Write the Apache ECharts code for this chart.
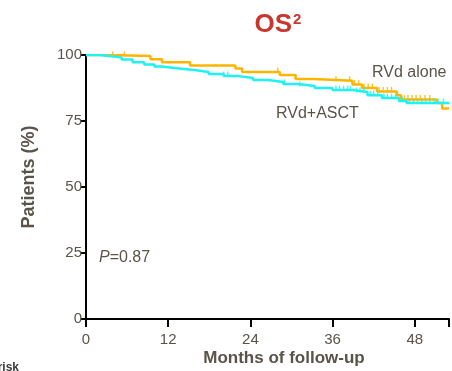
<!DOCTYPE html>
<html>
<head>
<meta charset="utf-8">
<script src="https://cdn.jsdelivr.net/npm/echarts@6/dist/echarts.min.js"></script>
<style>
  html, body { margin: 0; padding: 0; background: #fff; }
  #chart-panel { width: 452px; height: 371px; }
</style>
</head>
<body>
<div id="chart-panel"></div>
<script>
// months ticks and survival (%)
var xTicks = [0, 12, 24, 36, 48];
var yTicks = [0, 25, 50, 75, 100];

// RVd alone: [month, % alive after step]
var rvdAlone = [
  [0, 100], [3.5, 99.6], [9.4, 98.4], [11.1, 97.3], [15.2, 96.0], [21.8, 94.9],
  [22.8, 93.6], [28.3, 92.4], [30.6, 90.9], [33.3, 90.2], [38.9, 88.8],
  [40.3, 87.5], [42.5, 86.2], [45.4, 84.8], [46.0, 83.1], [51.2, 81.8],
  [52.0, 79.7], [53, 79.7]
];
// RVd+ASCT
var rvdAsct = [
  [0, 100], [2.0, 99.6], [3.3, 99.1], [5.2, 98.3], [6.8, 97.3], [8.5, 96.4],
  [10.0, 95.6], [11.0, 94.9], [13.6, 94.3], [15.8, 93.6], [17.9, 92.8],
  [20.1, 92.0], [22.3, 91.3], [24.4, 90.5], [26.6, 89.8], [28.8, 89.0],
  [30.9, 88.3], [33.4, 87.5], [36.0, 86.7], [38.9, 86.0], [41.1, 84.8],
  [43.2, 83.7], [45.7, 82.6], [46.8, 81.8], [53, 81.8]
];

// censoring times (months)
var censorAlone = [3.9, 5.6, 28.0, 30.6, 36.5, 38.5, 39.2, 39.8, 40.6, 41.2, 41.8,
  42.8, 43.4, 44.0, 44.6, 46.5, 47.0, 47.6, 48.2, 48.8, 49.5, 50.2];
var censorAsct = [20.1, 20.7, 29.0, 31.2, 36.5, 37.0, 37.6, 38.2, 38.6, 39.5, 40.0,
  40.6, 41.5, 42.0, 42.6, 43.5, 44.0, 44.6, 45.2, 46.2, 47.2, 47.8, 48.4, 49.0,
  49.6, 50.2, 50.8, 51.4, 52.2];

var textColor = '#59534a';
var orange = '#ffb400';
var cyan = '#1ef2f2';

function survAt(curve, t) {
  var v = curve[0][1];
  for (var i = 0; i < curve.length; i++) {
    if (curve[i][0] <= t) v = curve[i][1];
  }
  return v;
}
function censorPoints(curve, times) {
  return times.map(function (t) { return [t, survAt(curve, t)]; });
}

var myChart = echarts.init(document.querySelector('#chart-panel'));

var option = {
  animation: false,
  title: {
    text: 'OS{sup|2}',
    left: 273,
    top: 7,
    textAlign: 'center',
    textStyle: {
      color: '#c8372d', fontSize: 26, fontWeight: 'bold', fontFamily: 'Liberation Sans',
      rich: { sup: { color: '#c8372d', fontSize: 15, fontWeight: 'bold', verticalAlign: 'top', lineHeight: 15, padding: [0, 0, 10, 1], fontFamily: 'Liberation Sans' } }
    }
  },
  grid: { left: 86, right: 0, top: 55, bottom: 52, containLabel: false },
  xAxis: {
    type: 'value', min: 0, max: 53, interval: 12,
    axisLine: { lineStyle: { color: '#000', width: 2 } },
    axisTick: { length: 8, lineStyle: { color: '#000', width: 2 } },
    axisLabel: {
      color: textColor, fontSize: 15, fontFamily: 'Liberation Sans', margin: 13,
      formatter: function (v) { return xTicks.indexOf(v) >= 0 ? String(v) : ''; }
    },
    splitLine: { show: false }
  },
  yAxis: {
    type: 'value', min: 0, max: 100, interval: 25,
    axisLine: { show: true, lineStyle: { color: '#000', width: 2 } },
    axisTick: { show: true, length: 5, lineStyle: { color: '#000', width: 2 } },
    axisLabel: {
      color: textColor, fontSize: 15, fontFamily: 'Liberation Sans', margin: 4,
      formatter: function (v) { return yTicks.indexOf(v) >= 0 ? String(v) : ''; }
    },
    splitLine: { show: false }
  },
  series: [
    {
      name: 'RVd+ASCT', type: 'line', step: 'end', data: rvdAsct,
      showSymbol: false, lineStyle: { color: cyan, width: 2.5 }, z: 3
    },
    {
      name: 'RVd alone', type: 'line', step: 'end', data: rvdAlone,
      showSymbol: false, lineStyle: { color: orange, width: 2.5 }, z: 2
    },
    {
      type: 'scatter', data: censorPoints(rvdAsct, censorAsct),
      symbol: 'rect', symbolSize: [1.5, 5], symbolOffset: [0, -2],
      itemStyle: { color: cyan }, z: 3
    },
    {
      type: 'scatter', data: censorPoints(rvdAlone, censorAlone),
      symbol: 'rect', symbolSize: [1.5, 5], symbolOffset: [0, -2],
      itemStyle: { color: orange }, z: 2
    }
  ],
  graphic: [
    {
      type: 'text', left: 372, top: 65,
      style: { text: 'RVd alone', fill: textColor, font: '16px "Liberation Sans"' }
    },
    {
      type: 'text', left: 276, top: 106,
      style: { text: 'RVd+ASCT', fill: textColor, font: '16px "Liberation Sans"' }
    },
    {
      type: 'text', left: 99, top: 250,
      style: {
        text: '{p|P}=0.87', fill: textColor, font: '16px "Liberation Sans"',
        rich: { p: { fontStyle: 'italic', fontSize: 16, fill: textColor, fontFamily: 'Liberation Sans' } }
      }
    },
    {
      type: 'text', x: 284, y: 350,
      style: { text: 'Months of follow-up', fill: textColor, font: 'bold 17px "Liberation Sans"', align: 'center' }
    },
    {
      type: 'text', x: 29, y: 177, rotation: Math.PI / 2,
      style: { text: 'Patients (%)', fill: textColor, font: 'bold 18px "Liberation Sans"', align: 'center', verticalAlign: 'middle' }
    },
    {
      type: 'text', x: 19, y: 362,
      style: { text: 'Number at risk', fill: '#3a3a3a', font: 'bold 12px "Liberation Sans"', align: 'right' }
    }
  ]
};

myChart.setOption(option);
</script>
</body>
</html>
